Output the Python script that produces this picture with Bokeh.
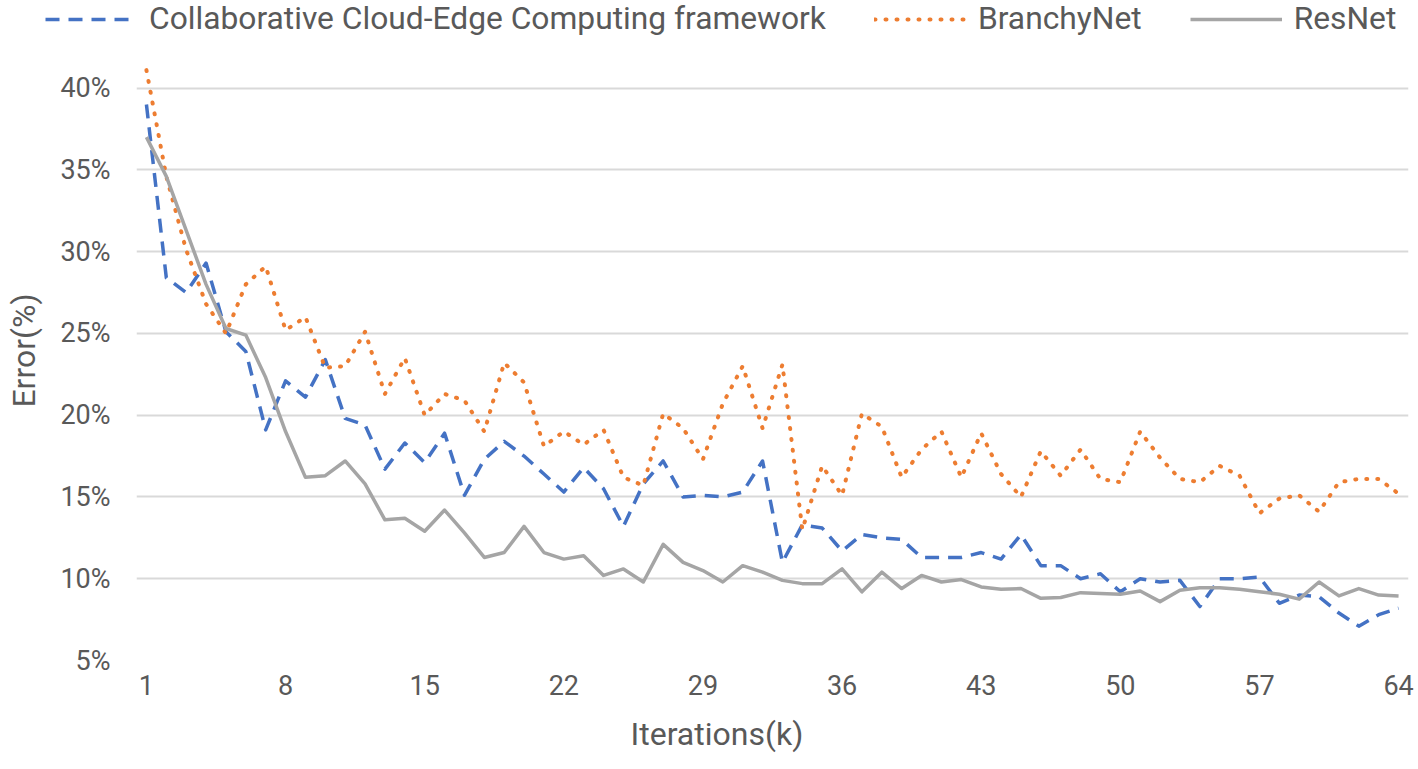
from bokeh.plotting import figure
from bokeh.models import Legend, LegendItem, FixedTicker, PrintfTickFormatter, Range1d, Title
from bokeh.embed import file_html
from bokeh.resources import INLINE

iterations = list(range(1, 65))
ccec = [39.0, 28.4, 27.5, 29.3, 25.1, 23.9, 19.1, 22.1, 21.1, 23.4,
        19.8, 19.4, 16.7, 18.3, 17.1, 18.9, 15.1, 17.3, 18.4, 17.5,
        16.4, 15.3, 16.8, 15.5, 13.2, 15.8, 17.2, 15.0, 15.1, 15.0,
        15.3, 17.2, 11.0, 13.3, 13.1, 11.7, 12.7, 12.5, 12.4, 11.3,
        11.3, 11.3, 11.6, 11.2, 12.7, 10.8, 10.8, 10.0, 10.3, 9.2,
        10.0, 9.8, 9.9, 8.3, 10.0, 10.0, 10.1, 8.5, 9.0, 8.9,
        7.9, 7.1, 7.8, 8.2]
branchy = [41.1, 34.6, 30.1, 26.8, 25.0, 28.0, 29.1, 25.2, 26.0, 22.9,
           23.0, 25.1, 21.3, 23.5, 20.0, 21.3, 20.9, 19.0, 23.2, 22.0,
           18.1, 19.0, 18.2, 19.1, 16.2, 15.7, 20.1, 19.2, 17.3, 20.7,
           23.0, 19.2, 23.1, 13.0, 16.9, 15.1, 20.1, 19.3, 16.2, 17.9,
           19.0, 16.2, 18.9, 16.4, 15.0, 17.8, 16.3, 17.9, 16.1, 15.9,
           19.0, 17.4, 16.1, 15.9, 16.9, 16.3, 14.0, 14.9, 15.1, 14.1,
           15.9, 16.1, 16.1, 15.2]
resnet = [37.0, 34.6, 31.3, 28.0, 25.3, 24.9, 22.3, 19.0, 16.2, 16.3,
          17.2, 15.8, 13.6, 13.7, 12.9, 14.2, 12.8, 11.3, 11.6, 13.2,
          11.6, 11.2, 11.4, 10.2, 10.6, 9.8, 12.1, 11.0, 10.5, 9.8,
          10.8, 10.4, 9.9, 9.7, 9.7, 10.6, 9.2, 10.4, 9.4, 10.2,
          9.8, 9.95, 9.5, 9.35, 9.4, 8.8, 8.85, 9.15, 9.1, 9.05,
          9.25, 8.6, 9.3, 9.45, 9.45, 9.35, 9.2, 9.05, 8.75, 9.8,
          8.95, 9.4, 9.0, 8.95]
series = [ccec, branchy, resnet]
series_names = ["Collaborative Cloud-Edge Computing framework", "BranchyNet", "ResNet"]
x_ticks = [1, 8, 15, 22, 29, 36, 43, 50, 57, 64]
y_ticks = [5, 10, 15, 20, 25, 30, 35, 40]
x_title = "Iterations(k)"
y_title = "Error(%)"

FONT = "Roboto"
TXT = "#595959"
STYLES = [dict(line_color="#4472C4", line_width=3.5, line_dash="14 9", line_join="round"),
          dict(line_color="#ED7D31", line_width=4, line_dash="1 10", line_cap="round",
               line_join="round"),
          dict(line_color="#A5A5A5", line_width=3.5, line_join="round")]

W = 1416
LEG_H = 40
MAIN_H = 727

# ---------------- legend strip (series drawn outside its view, only keys show) ----------------
pl = figure(width=W, height=LEG_H, output_backend="svg", toolbar_location=None,
            x_axis_type=None, y_axis_type=None,
            x_range=Range1d(-2, -1), y_range=Range1d(-2, -1),
            min_border_left=45, min_border_right=0, min_border_top=0, min_border_bottom=0)
pl.outline_line_color = None
pl.border_fill_color = "white"
pl.background_fill_color = "white"
leg_r = [pl.line(iterations, vals, **st) for vals, st in zip(series, STYLES)]
legend = Legend(items=[LegendItem(label=n, renderers=[r]) for n, r in zip(series_names, leg_r)],
                orientation="horizontal", location="top_left",
                glyph_width=92, glyph_height=30, label_standoff=12,
                spacing=48, padding=0, margin=0, border_line_color=None,
                background_fill_alpha=0,
                label_text_font=FONT, label_text_font_size="31.75px",
                label_text_color=TXT)
pl.add_layout(legend, "center")

# ---------------- main chart ----------------
p = figure(width=W, height=MAIN_H, output_backend="svg", toolbar_location=None,
           x_range=Range1d(0.5, 64.5), y_range=Range1d(5, 42.91),
           min_border_left=136, min_border_right=8, min_border_top=0,
           min_border_bottom=102)
p.outline_line_color = None
p.background_fill_color = "white"
p.border_fill_color = "white"

p.xgrid.visible = False
p.ygrid.grid_line_color = "#d9d9d9"
p.ygrid.grid_line_width = 2

p.xaxis.ticker = FixedTicker(ticks=x_ticks)
p.yaxis.ticker = FixedTicker(ticks=y_ticks)
p.yaxis.formatter = PrintfTickFormatter(format="%d%%")
for ax in (p.xaxis, p.yaxis):
    ax.axis_line_color = None
    ax.major_tick_line_color = None
    ax.minor_tick_line_color = None
    ax.major_tick_in = 0
    ax.major_tick_out = 0
    ax.minor_tick_in = 0
    ax.minor_tick_out = 0
    ax.major_label_text_font = FONT
    ax.major_label_text_font_size = "27px"
    ax.major_label_text_color = TXT
p.xaxis.major_label_standoff = 14
p.yaxis.major_label_standoff = 26
p.yaxis.axis_label = y_title
p.yaxis.axis_label_text_font = FONT
p.yaxis.axis_label_text_font_size = "32px"
p.yaxis.axis_label_text_font_style = "normal"
p.yaxis.axis_label_text_color = TXT
p.yaxis.axis_label_standoff = 14

for vals, st in zip(series, STYLES):
    p.line(iterations, vals, **st)

xt = Title(text=x_title, align="left", offset=494, text_font=FONT,
           text_font_size="32px", text_font_style="normal", text_color=TXT,
           standoff=30)
p.add_layout(xt, "below")

open("out.html", "w").write(file_html([pl, p], INLINE))
